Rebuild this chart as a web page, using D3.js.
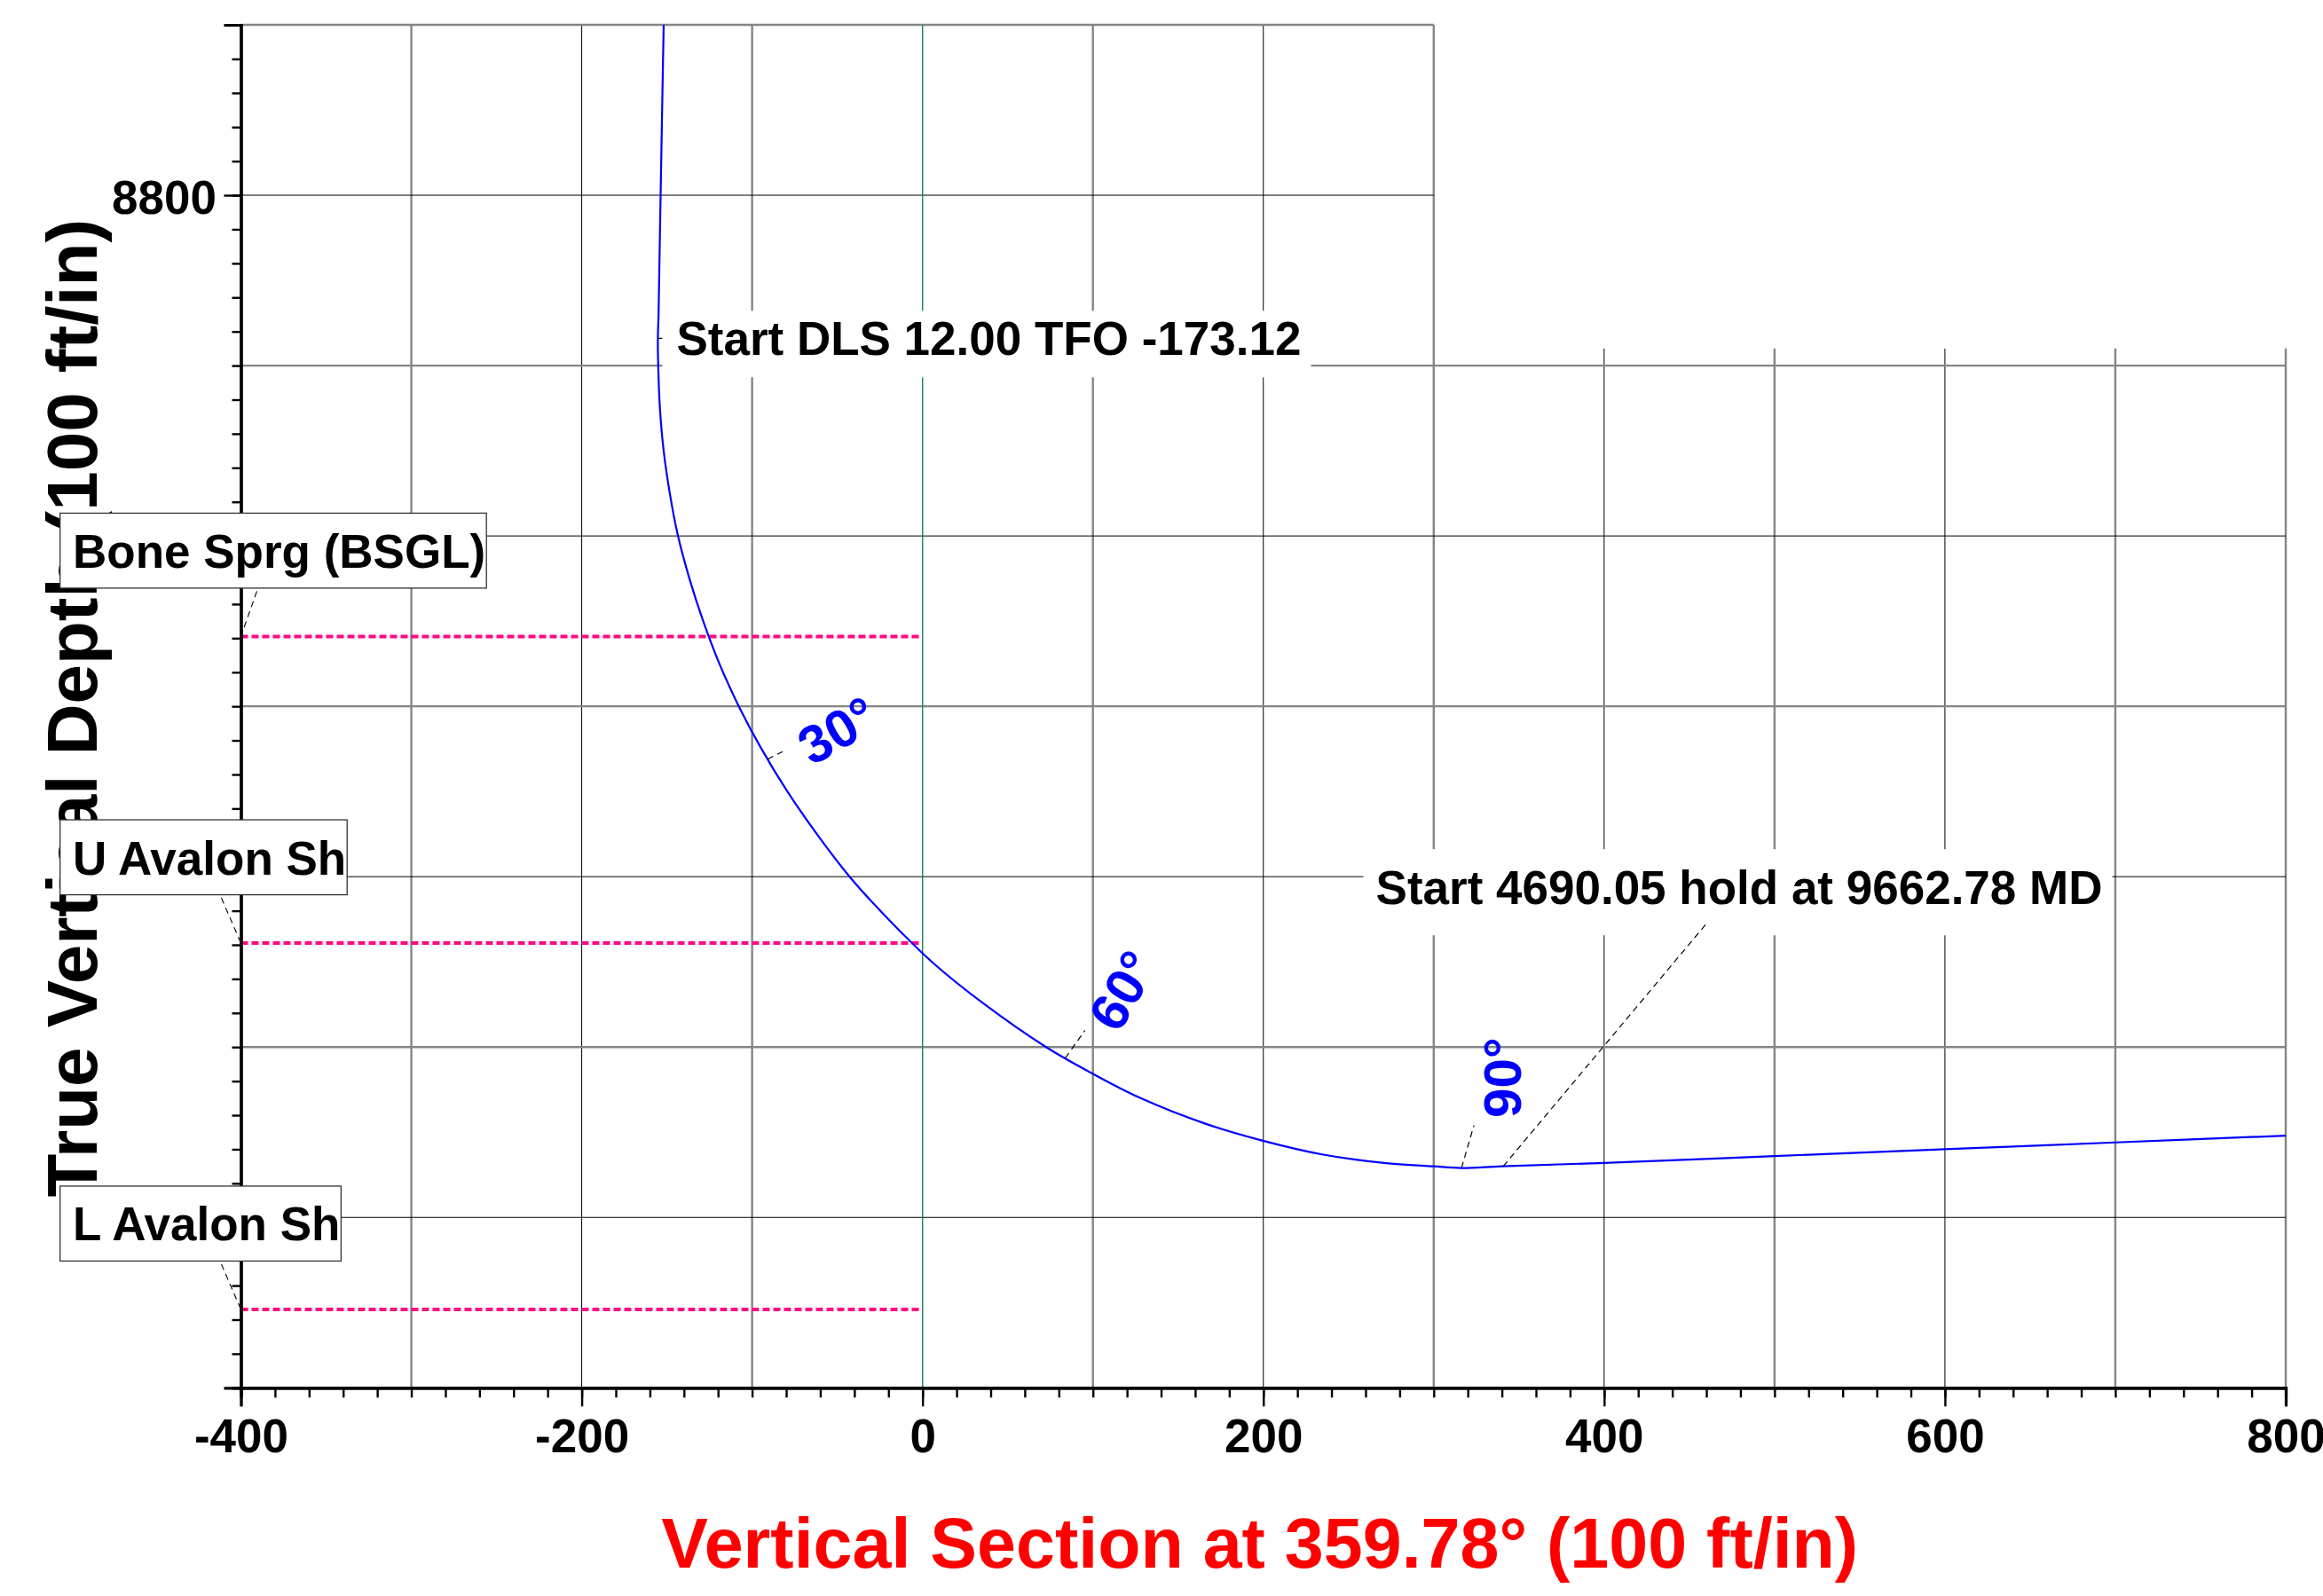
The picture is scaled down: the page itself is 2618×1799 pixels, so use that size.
<!DOCTYPE html>
<html>
<head>
<meta charset="utf-8">
<script src="https://cdn.jsdelivr.net/npm/d3@7"></script>
<style>
  body { margin: 0; background: #fff; }
  svg { display: block; font-family: "Liberation Sans", Arial, Helvetica, sans-serif; font-weight: bold; }
</style>
</head>
<body>
<svg id="chart" width="2618" height="1799"></svg>
<script>
// well path: vertical section (ft) and TVD (ft)
const pathVS = [-151.9, -153.7, -154.9, -155.3, -155.1, -154.1, -151.9, -148.3, -143.5, -136.8,
  -128.7, -119.2, -107.8, -94.5, -79.3, -62.0, -42.8, -20.0, 5.5, 36.5, 72.5, 98.7, 128.0,
  166.0, 199.8, 234.5, 270.9, 299.8, 316.3, 339.8, 400, 500, 600, 700, 800];
const pathTVD = [8700, 8800, 8870, 8884, 8900, 8925, 8950, 8975, 9000, 9025,
  9050, 9075, 9100, 9125, 9150, 9175, 9200, 9225, 9250, 9275, 9300, 9315, 9330,
  9345, 9355, 9363, 9368, 9370, 9371, 9370, 9368, 9364, 9360, 9356, 9352];

const formationNames = ["Bone Sprg (BSGL)", "U Avalon Sh", "L Avalon Sh"];
const formationTVD = [9059, 9239, 9454];

const angleLabels = ["30°", "60°", "90°"];
const angleInc = [30, 60, 90];
const angleVS = [-90.9, 83.8, 316.3];
const angleTVD = [9131, 9306.5, 9371];

const noteTexts = ["Start DLS 12.00 TFO -173.12", "Start 4690.05 hold at 9662.78 MD"];
const noteVS = [-155.3, 340.8];
const noteTVD = [8884, 9370];

const xTickLabels = [-400, -200, 0, 200, 400, 600, 800];
const yTickLabels = [8800];

const xTitle = "Vertical Section at 359.78° (100 ft/in)";
const yTitle = "True Vertical Depth (100 ft/in)";

// layout
const svg = d3.select("#chart");
const x = d3.scaleLinear().domain([-400, 800]).range([271.5, 2576]);
const y = d3.scaleLinear().domain([8700, 9500]).range([28, 1564.3]);

// grid
const grid = svg.append("g");
const vLines = d3.range(-300, 801, 100);
grid.selectAll(".v")
  .data(vLines)
  .join("line")
  .attr("x1", d => x(d)).attr("x2", d => x(d))
  .attr("y1", d => d <= 300 ? y(8700) : y(8890))
  .attr("y2", y(9500))
  .attr("stroke", d => d === 0 ? "#1f8a55" : (d % 200 === 0 && d !== 800 ? "#000" : "#858585"))
  .attr("stroke-width", d => d === 0 ? 1.2 : (d % 200 === 0 && d !== 800 ? 1 : 2.4));

const hLines = d3.range(8700, 9401, 100);
grid.selectAll(".h")
  .data(hLines)
  .join("line")
  .attr("x1", x(-400))
  .attr("x2", d => d < 8900 ? x(300) : x(800))
  .attr("y1", d => y(d)).attr("y2", d => y(d))
  .attr("stroke", d => d % 200 === 0 ? "#000" : "#858585")
  .attr("stroke-width", d => d % 200 === 0 ? 1 : 2.4);
// green VS=0 line on top of horizontals
grid.append("line")
  .attr("x1", x(0)).attr("x2", x(0)).attr("y1", y(8700)).attr("y2", y(9500))
  .attr("stroke", "#1f8a55").attr("stroke-width", 1.2);

// formation tops
svg.append("g").selectAll("line")
  .data(formationTVD)
  .join("line")
  .attr("x1", x(-400)).attr("x2", x(0))
  .attr("y1", d => y(d)).attr("y2", d => y(d))
  .attr("stroke", "#ff0a80")
  .attr("stroke-width", 4)
  .attr("stroke-dasharray", "8,4");

// well path
const pts = pathVS.map((v, i) => [v, pathTVD[i]]);
svg.append("path")
  .attr("d", d3.line().x(d => x(d[0])).y(d => y(d[1])).curve(d3.curveCatmullRom.alpha(0.5))(pts))
  .attr("fill", "none")
  .attr("stroke", "#0000ff")
  .attr("stroke-width", 2.2);

// annotations
const noteLayout = [
  { dx: 21, dy: 19, pad: [16, 14, 11, 14] },
  { dx: -143.6, dy: -295.4, pad: [14, 26, 11, 24], leader: [228.5, -273] }
];
noteTexts.forEach((t, i) => {
  const px = x(noteVS[i]), py = y(noteTVD[i]);
  const L = noteLayout[i];
  const g = svg.append("g");
  const rect = g.append("rect").attr("fill", "#fff");
  const txt = g.append("text")
    .attr("x", px + L.dx).attr("y", py + L.dy)
    .attr("font-size", 53).attr("fill", "#000")
    .text(t);
  const bb = txt.node().getBBox();
  rect.attr("x", bb.x - L.pad[0]).attr("y", bb.y - L.pad[1] + 12)
    .attr("width", bb.width + L.pad[0] + L.pad[2])
    .attr("height", bb.height + L.pad[1] + L.pad[3] - 12);
  if (L.leader) {
    svg.append("line")
      .attr("x1", px).attr("y1", py)
      .attr("x2", px + L.leader[0]).attr("y2", py + L.leader[1])
      .attr("stroke", "#000").attr("stroke-width", 1.2).attr("stroke-dasharray", "7,5");
  } else {
    svg.append("line")
      .attr("x1", px).attr("y1", py)
      .attr("x2", bb.x - L.pad[0]).attr("y2", py)
      .attr("stroke", "#000").attr("stroke-width", 1.2);
  }
});

// inclination labels
const angleLeader = [[20, -10], [22, -31], [14, -48]];
const angleText = [[79, -32], [65, -76], [46, -102]];
angleLabels.forEach((t, i) => {
  const px = x(angleVS[i]), py = y(angleTVD[i]);
  svg.append("line")
    .attr("x1", px).attr("y1", py)
    .attr("x2", px + angleLeader[i][0]).attr("y2", py + angleLeader[i][1])
    .attr("stroke", "#000").attr("stroke-width", 1.2).attr("stroke-dasharray", "7,5");
  const cx = px + angleText[i][0], cy = py + angleText[i][1];
  svg.append("text")
    .attr("transform", `translate(${cx},${cy}) rotate(${-angleInc[i]})`)
    .attr("text-anchor", "middle")
    .attr("dominant-baseline", "central")
    .attr("font-size", 60)
    .attr("fill", "#0000ff")
    .text(t);
});

// axes
const xMinor = svg.append("g").attr("transform", `translate(0,${y(9500)})`)
  .call(d3.axisBottom(x).tickValues(d3.range(-400, 801, 20)).tickSize(11).tickFormat(""));
const xMajor = svg.append("g").attr("transform", `translate(0,${y(9500)})`)
  .call(d3.axisBottom(x).tickValues(xTickLabels).tickSize(21).tickPadding(14).tickFormat(d3.format("d")));
const yMinor = svg.append("g").attr("transform", `translate(${x(-400)},0)`)
  .call(d3.axisLeft(y).tickValues(d3.range(8700, 9501, 20)).tickSize(10).tickFormat(""));
const yMajor = svg.append("g").attr("transform", `translate(${x(-400)},0)`)
  .call(d3.axisLeft(y).tickValues(yTickLabels).tickSize(19).tickPadding(8.5).tickFormat(d3.format("d")));

[xMinor, xMajor, yMinor, yMajor].forEach(a => {
  a.selectAll(".domain").attr("stroke", "#000").attr("stroke-width", 3.2);
  a.selectAll(".tick line").attr("stroke", "#000").attr("stroke-width", 2.4);
  a.selectAll("text")
    .attr("font-family", "Liberation Sans, Arial, sans-serif")
    .attr("font-weight", "bold")
    .attr("font-size", 53)
    .attr("fill", "#000");
});
yMajor.selectAll("text").attr("dy", "0.38em");
xMajor.selectAll("text").text(d => d < 0 ? "-" + Math.abs(d) : d);

// titles
svg.append("text")
  .attr("x", (x(-400) + x(800)) / 2 - 4)
  .attr("y", 1767)
  .attr("text-anchor", "middle")
  .attr("font-size", 79)
  .attr("fill", "#ff0000")
  .text(xTitle);

svg.append("text")
  .attr("transform", `translate(109,${(y(8700) + y(9500)) / 2 + 2}) rotate(-90)`)
  .attr("text-anchor", "middle")
  .attr("font-size", 80)
  .attr("fill", "#000")
  .text(yTitle);

// formation labels (drawn over the title, like the original)
const leaderDx = [18, -22, -22];
formationNames.forEach((name, i) => {
  const top = y(formationTVD[i]) - 139;
  const g = svg.append("g");
  const rect = g.append("rect")
    .attr("x", 67.7).attr("y", top).attr("height", 84.5)
    .attr("fill", "#fff").attr("stroke", "#333").attr("stroke-width", 1.3);
  const txt = g.append("text")
    .attr("x", 82).attr("y", top + 61.5)
    .attr("font-size", 53).attr("fill", "#000")
    .text(name);
  const w = txt.node().getComputedTextLength();
  rect.attr("width", 82 + w - 67.7 + 1);
  svg.append("line")
    .attr("x1", x(-400) + leaderDx[i]).attr("y1", top + 88)
    .attr("x2", x(-400)).attr("y2", y(formationTVD[i]))
    .attr("stroke", "#000").attr("stroke-width", 1.1).attr("stroke-dasharray", "7,5");
});
</script>
</body>
</html>
